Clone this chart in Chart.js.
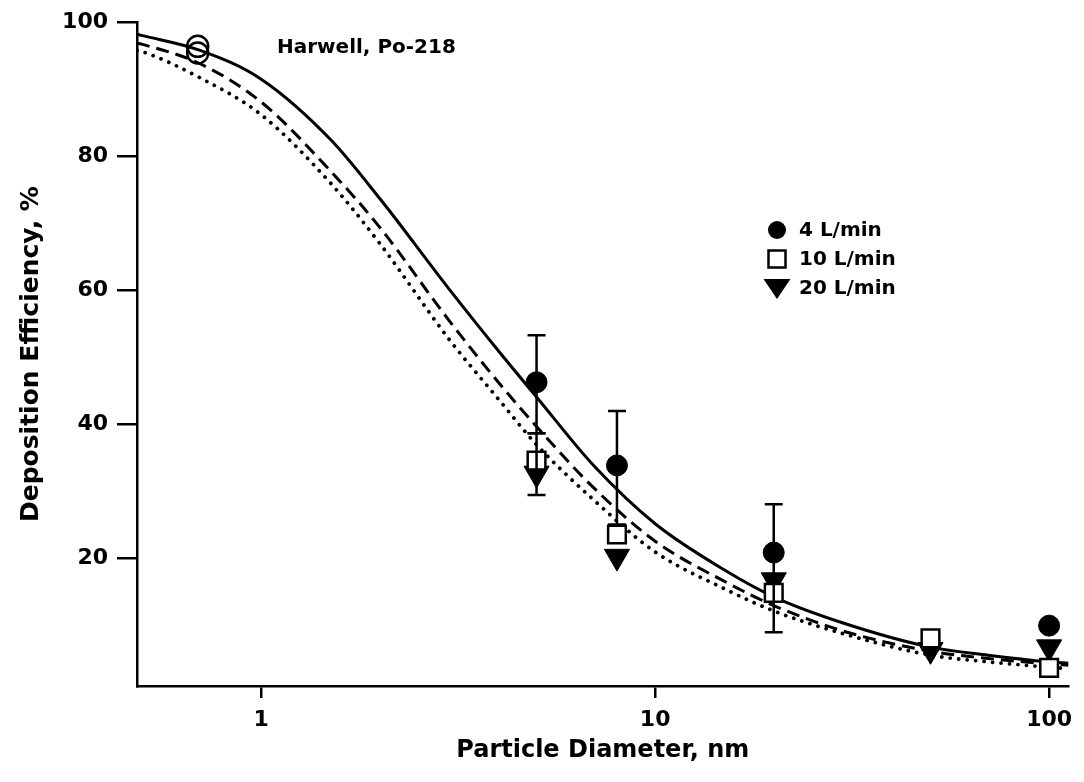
<!DOCTYPE html>
<html>
<head>
<meta charset="utf-8">
<script src="https://cdn.jsdelivr.net/npm/chart.js@4.4.0/dist/chart.umd.min.js"></script>
<style>
  html, body { margin: 0; padding: 0; background: #fff; }
  #wrap { width: 1084px; height: 782px; }
</style>
</head>
<body>
<div id="wrap"><canvas id="chart" width="1084" height="782"></canvas></div>
<script>
// fitted curves (x = particle diameter, nm)
const curveX = [0.484, 0.5, 0.7, 1, 1.5, 2, 3, 4, 5, 7, 10, 15, 20, 30, 50, 70, 100, 112];
const curve4 = [98.2, 98.0, 95.8, 91.5, 82.5, 73.7, 60.2, 51.0, 44.1, 33.8, 25.2, 18.3, 14.3, 10.4, 6.8, 5.6, 4.6, 4.4];
const curve10 = [96.9, 96.7, 93.8, 88.1, 77.8, 69.4, 55.5, 46.3, 39.7, 30.5, 22.6, 16.6, 13.0, 9.2, 6.2, 5.1, 4.3, 4.1];
const curve20 = [95.8, 95.6, 91.7, 86.2, 76.0, 67.0, 52.7, 43.8, 37.0, 28.7, 21.0, 15.5, 12.2, 8.8, 5.6, 4.6, 3.8, 3.6];

// measured points
const flowLabels = ['4 L/min', '10 L/min', '20 L/min'];
const pointX = [5, 8, 20, 50, 100];
const circleY = [46.3, 33.9, 20.9, null, 10.0];
const squareY = [34.6, 23.6, 14.9, 8.1, 3.7];
const triangleY = [32.7, 20.3, 16.8, 6.4, 6.8];

// Harwell Po-218 points (open circles)
const harwellX = [0.69, 0.69];
const harwellY = [96.4, 95.4];

// error bars
const errX = [5, 5, 8, 20];
const errLo = [38.7, 29.5, 25.1, 9.0];
const errHi = [53.3, 38.7, 42.0, 28.1];

const xTicks = [1, 10, 100];
const yTicks = [20, 40, 60, 80, 100];

Chart.defaults.font.family = "'DejaVu Sans', sans-serif";
Chart.defaults.font.weight = 'bold';
Chart.defaults.color = '#000';

function toXY(xs, ys) {
    return xs.map((x, i) => ({ x: x, y: ys[i] })).filter(p => p.y !== null);
}

const errorBars = {
    id: 'errorBars',
    afterDatasetsDraw(chart) {
        const { ctx, scales: { x, y } } = chart;
        ctx.save();
        ctx.strokeStyle = '#000';
        ctx.lineWidth = 2.5;
        errX.forEach((v, i) => {
            const px = x.getPixelForValue(v);
            const top = y.getPixelForValue(errHi[i]);
            const bot = y.getPixelForValue(errLo[i]);
            ctx.beginPath();
            ctx.moveTo(px, top); ctx.lineTo(px, bot);
            ctx.moveTo(px - 9, top); ctx.lineTo(px + 9, top);
            ctx.moveTo(px - 9, bot); ctx.lineTo(px + 9, bot);
            ctx.stroke();
        });
        ctx.restore();
    }
};

// legend inside the plot + the label at the top
const extras = {
    id: 'extras',
    afterDraw(chart) {
        const ctx = chart.ctx;
        ctx.save();
        ctx.fillStyle = '#000';
        ctx.strokeStyle = '#000';
        ctx.font = "bold 20px 'DejaVu Sans'";
        ctx.textAlign = 'left';
        ctx.textBaseline = 'alphabetic';
        ctx.fillText('Harwell, Po-218', 277, 53);

        const mx = 777, tx = 799;
        const rows = [230, 259, 288];
        // filled circle
        ctx.beginPath();
        ctx.arc(mx, rows[0], 9, 0, Math.PI * 2);
        ctx.fill();
        // open square
        ctx.lineWidth = 2.5;
        ctx.strokeRect(mx - 8.5, rows[1] - 8.5, 17, 17);
        // filled down triangle
        ctx.beginPath();
        ctx.moveTo(mx - 13.5, rows[2] - 9);
        ctx.lineTo(mx + 13.5, rows[2] - 9);
        ctx.lineTo(mx, rows[2] + 11);
        ctx.closePath();
        ctx.fill();

        ctx.textBaseline = 'middle';
        flowLabels.forEach((t, i) => ctx.fillText(t, tx, rows[i] + 1));
        ctx.restore();
    }
};

new Chart(document.getElementById('chart'), {
    type: 'scatter',
    data: {
        datasets: [
            {
                label: flowLabels[0],
                data: toXY(pointX, circleY),
                pointStyle: 'circle',
                pointRadius: 10.5,
                backgroundColor: '#000',
                borderColor: '#000',
                borderWidth: 1,
                order: 0
            },
            {
                label: flowLabels[1],
                data: toXY(pointX, squareY),
                pointStyle: 'rect',
                pointRadius: 12.5,
                backgroundColor: '#fff',
                borderColor: '#000',
                borderWidth: 2.5,
                order: 0
            },
            {
                label: flowLabels[2],
                data: toXY(pointX, triangleY),
                pointStyle: 'triangle',
                rotation: 180,
                pointRadius: 14.5,
                backgroundColor: '#000',
                borderColor: '#000',
                borderWidth: 1,
                order: 0
            },
            {
                label: 'Harwell',
                data: toXY(harwellX, harwellY),
                pointStyle: 'circle',
                pointRadius: 10.5,
                backgroundColor: 'rgba(0,0,0,0)',
                borderColor: '#000',
                borderWidth: 2.5,
                order: 0
            },
            {
                label: 'fit 4',
                data: toXY(curveX, curve4),
                showLine: true,
                pointRadius: 0,
                borderColor: '#000',
                borderWidth: 3,
                cubicInterpolationMode: 'monotone',
                order: 1
            },
            {
                label: 'fit 10',
                data: toXY(curveX, curve10),
                showLine: true,
                pointRadius: 0,
                borderColor: '#000',
                borderWidth: 3,
                borderDash: [13, 7],
                cubicInterpolationMode: 'monotone',
                order: 1
            },
            {
                label: 'fit 20',
                data: toXY(curveX, curve20),
                showLine: true,
                pointRadius: 0,
                borderColor: '#000',
                borderWidth: 3.8,
                borderDash: [0.01, 8.5],
                borderCapStyle: 'round',
                cubicInterpolationMode: 'monotone',
                order: 1
            }
        ]
    },
    options: {
        responsive: false,
        animation: false,
        devicePixelRatio: 1,
        layout: { padding: { top: 22, right: 9, left: 0, bottom: 0 } },
        plugins: {
            legend: { display: false },
            tooltip: { enabled: false }
        },
        scales: {
            x: {
                type: 'logarithmic',
                min: 0.484,
                max: 112,
                afterBuildTicks: scale => { scale.ticks = xTicks.map(v => ({ value: v })); },
                afterFit: scale => { scale.height = 96; },
                grid: { drawOnChartArea: false, drawTicks: true, tickLength: 12, color: '#000', lineWidth: 2.5 },
                border: { display: true, color: '#000', width: 2.5 },
                ticks: {
                    padding: 9,
                    font: { size: 22, weight: 'bold' },
                    callback: v => String(v)
                },
                title: {
                    display: true,
                    text: 'Particle Diameter, nm',
                    font: { size: 24, weight: 'bold' },
                    padding: { top: 0, bottom: 17 }
                }
            },
            y: {
                min: 1,
                max: 100,
                afterBuildTicks: scale => { scale.ticks = yTicks.map(v => ({ value: v })); },
                afterFit: scale => { scale.width = 137; },
                grid: { drawOnChartArea: false, drawTicks: true, tickLength: 20, color: '#000', lineWidth: 2.5 },
                border: { display: true, color: '#000', width: 2.5 },
                ticks: {
                    padding: 9,
                    font: { size: 22, weight: 'bold' },
                    callback: v => String(v)
                },
                title: {
                    display: true,
                    text: 'Deposition Efficiency, %',
                    font: { size: 25, weight: 'bold' },
                    padding: { top: 16, bottom: 0 }
                }
            }
        }
    },
    plugins: [errorBars, extras]
});
</script>
</body>
</html>
